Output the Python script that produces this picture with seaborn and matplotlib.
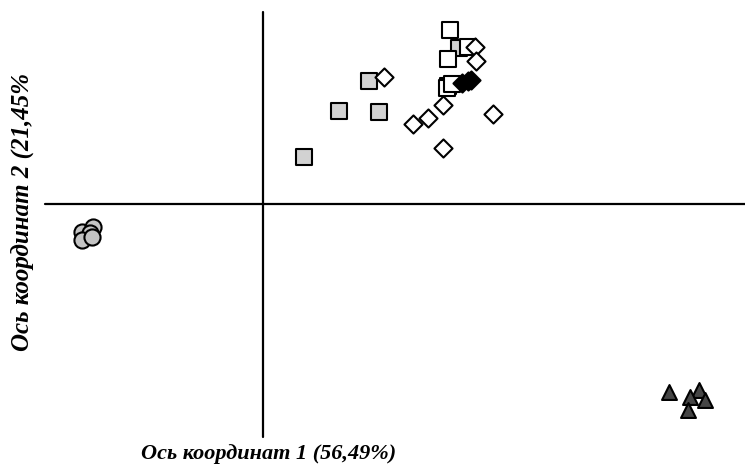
import matplotlib
matplotlib.use("Agg")
import matplotlib.pyplot as plt
import seaborn as sns
import pandas as pd
import numpy as np

# Coordinates on the ordination plane (arbitrary units)
open_sq_x = [1.87, 2.05, 1.85, 1.84, 1.89]
open_sq_y = [1.74, 1.57, 1.45, 1.16, 1.20]

gray_sq_x = [1.96, 1.06, 0.76, 1.16, 0.41, 1.85]
gray_sq_y = [1.56, 1.23, 0.93, 0.92, 0.47, 1.18]

open_dm_x = [2.12, 2.13, 1.21, 1.80, 1.65, 1.50, 2.30, 1.80]
open_dm_y = [1.57, 1.43, 1.27, 0.99, 0.86, 0.80, 0.90, 0.56]

black_dm_x = [1.99, 2.05, 2.08]
black_dm_y = [1.21, 1.23, 1.24]

circ_x = [-1.81, -1.70, -1.73, -1.81, -1.71]
circ_y = [-0.28, -0.23, -0.29, -0.36, -0.33]

tri_x = [4.06, 4.36, 4.27, 4.42, 4.25]
tri_y = [-1.88, -1.86, -1.93, -1.96, -2.06]

xlabel = "Ось координат 1 (56,49%)"
ylabel = "Ось координат 2 (21,45%"

sns.set_theme(style="white")
plt.rcParams['font.family'] = ['Liberation Serif', 'DejaVu Serif']

fig = plt.figure(figsize=(7.45, 4.65), dpi=100)
ax = fig.add_axes([0, 0, 1, 1])
ax.set_xlim(-2.63, 4.82)
ax.set_ylim(-2.61, 2.04)
ax.axis("off")

# axes cross
ax.plot([0, 0], [-2.33, 1.92], color="black", lw=1.6, zorder=1)
ax.plot([-2.18, 4.82], [0, 0], color="black", lw=1.6, zorder=1)

groups = [
    (circ_x, circ_y, "o", "#c4c4c4", 135),
    (tri_x, tri_y, "^", "#454545", 115),
    (gray_sq_x, gray_sq_y, "s", "#d2d2d2", 145),
    (open_sq_x, open_sq_y, "s", "white", 145),
    (open_dm_x, open_dm_y, "D", "white", 85),
    (black_dm_x, black_dm_y, "D", "black", 85),
]
for gx, gy, m, c, s in groups:
    df = pd.DataFrame({"x": gx, "y": gy})
    sns.scatterplot(data=df, x="x", y="y", marker=m, color=c, s=s,
                    edgecolor="black", linewidth=1.5, ax=ax, zorder=3)

ax.set_xlabel("")
ax.set_ylabel("")
ax.axis("off")

fig.text(269 / 745, 1 - 454 / 465, xlabel, ha="center", va="center",
         fontsize=16, fontweight="bold", fontstyle="italic", color="black")
fig.text(22 / 745, 1 - 212 / 465, ylabel, ha="center", va="center",
         rotation=90, fontsize=18, fontweight="bold", fontstyle="italic",
         color="black")

fig.savefig("out.png", dpi=100)
